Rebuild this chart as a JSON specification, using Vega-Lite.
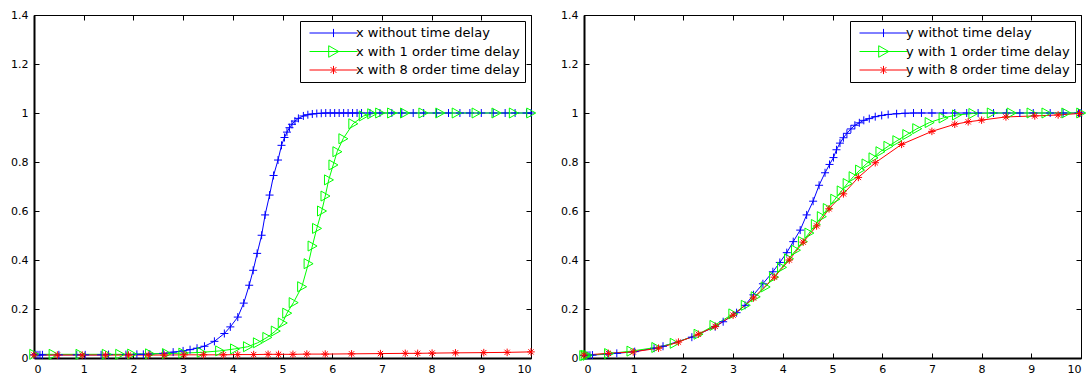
{
  "$schema": "https://vega.github.io/schema/vega-lite/v6.json",
  "padding": {"left": 10, "top": 8, "right": 0, "bottom": 0},
  "background": "white",
  "config": {
    "view": {"stroke": "black", "strokeWidth": 1},
    "axis": {"labelFont": "DejaVu Sans", "labelFontSize": 11, "labelColor": "black", "domainColor": "black", "tickColor": "black", "grid": false, "tickSize": -5, "title": null, "format": "~r"},
    "axisBottom": {"labelPadding": 10},
    "axisLeft": {"labelPadding": 11},
    "legend": {"labelFont": "DejaVu Sans", "labelFontSize": 13, "labelColor": "black", "labelLimit": 0, "padding": 5, "rowPadding": 4.5, "strokeColor": "black", "strokeWidth": 1, "fillColor": "white", "cornerRadius": 0, "symbolOffset": 4, "labelOffset": -2, "clipHeight": 14, "symbolSize": 2304, "symbolStrokeWidth": 1}
  },
  "datasets": {
    "left": [
      {"s": "x without time delay", "t": 0, "v": 0.013}, {"s": "x without time delay", "t": 0.04, "v": 0.013}, {"s": "x without time delay", "t": 0.08, "v": 0.013}, {"s": "x without time delay", "t": 0.12, "v": 0.013}, {"s": "x without time delay", "t": 0.17, "v": 0.013},
      {"s": "x without time delay", "t": 0.5, "v": 0.013}, {"s": "x without time delay", "t": 0.86, "v": 0.013}, {"s": "x without time delay", "t": 1.03, "v": 0.013}, {"s": "x without time delay", "t": 1.35, "v": 0.013}, {"s": "x without time delay", "t": 1.5, "v": 0.014},
      {"s": "x without time delay", "t": 1.85, "v": 0.014}, {"s": "x without time delay", "t": 2.07, "v": 0.015}, {"s": "x without time delay", "t": 2.2, "v": 0.015}, {"s": "x without time delay", "t": 2.33, "v": 0.016}, {"s": "x without time delay", "t": 2.6, "v": 0.019},
      {"s": "x without time delay", "t": 2.8, "v": 0.024}, {"s": "x without time delay", "t": 3.0, "v": 0.029}, {"s": "x without time delay", "t": 3.14, "v": 0.034}, {"s": "x without time delay", "t": 3.28, "v": 0.04}, {"s": "x without time delay", "t": 3.43, "v": 0.048},
      {"s": "x without time delay", "t": 3.63, "v": 0.068}, {"s": "x without time delay", "t": 3.83, "v": 0.1}, {"s": "x without time delay", "t": 3.95, "v": 0.127}, {"s": "x without time delay", "t": 4.1, "v": 0.167}, {"s": "x without time delay", "t": 4.22, "v": 0.224},
      {"s": "x without time delay", "t": 4.33, "v": 0.297}, {"s": "x without time delay", "t": 4.41, "v": 0.358}, {"s": "x without time delay", "t": 4.49, "v": 0.427}, {"s": "x without time delay", "t": 4.58, "v": 0.501}, {"s": "x without time delay", "t": 4.65, "v": 0.584},
      {"s": "x without time delay", "t": 4.74, "v": 0.665}, {"s": "x without time delay", "t": 4.82, "v": 0.745}, {"s": "x without time delay", "t": 4.91, "v": 0.808}, {"s": "x without time delay", "t": 4.98, "v": 0.868}, {"s": "x without time delay", "t": 5.04, "v": 0.9},
      {"s": "x without time delay", "t": 5.09, "v": 0.922}, {"s": "x without time delay", "t": 5.14, "v": 0.94}, {"s": "x without time delay", "t": 5.19, "v": 0.954}, {"s": "x without time delay", "t": 5.25, "v": 0.967}, {"s": "x without time delay", "t": 5.32, "v": 0.978},
      {"s": "x without time delay", "t": 5.42, "v": 0.988}, {"s": "x without time delay", "t": 5.51, "v": 0.993}, {"s": "x without time delay", "t": 5.6, "v": 0.996}, {"s": "x without time delay", "t": 5.69, "v": 0.998}, {"s": "x without time delay", "t": 5.78, "v": 0.999},
      {"s": "x without time delay", "t": 5.87, "v": 1}, {"s": "x without time delay", "t": 5.96, "v": 1}, {"s": "x without time delay", "t": 6.05, "v": 1}, {"s": "x without time delay", "t": 6.14, "v": 1}, {"s": "x without time delay", "t": 6.23, "v": 1},
      {"s": "x without time delay", "t": 6.32, "v": 1}, {"s": "x without time delay", "t": 6.41, "v": 1}, {"s": "x without time delay", "t": 6.5, "v": 1}, {"s": "x without time delay", "t": 6.59, "v": 1}, {"s": "x without time delay", "t": 6.76, "v": 1},
      {"s": "x without time delay", "t": 6.96, "v": 1}, {"s": "x without time delay", "t": 7.2, "v": 1}, {"s": "x without time delay", "t": 7.4, "v": 1}, {"s": "x without time delay", "t": 7.63, "v": 1}, {"s": "x without time delay", "t": 7.84, "v": 1},
      {"s": "x without time delay", "t": 8.1, "v": 1}, {"s": "x without time delay", "t": 8.34, "v": 1}, {"s": "x without time delay", "t": 8.57, "v": 1}, {"s": "x without time delay", "t": 8.77, "v": 1}, {"s": "x without time delay", "t": 9.0, "v": 1},
      {"s": "x without time delay", "t": 9.24, "v": 1}, {"s": "x without time delay", "t": 9.48, "v": 1}, {"s": "x without time delay", "t": 9.68, "v": 1}, {"s": "x without time delay", "t": 9.91, "v": 1}, {"s": "x without time delay", "t": 10, "v": 1},
      {"s": "x with 1 order time delay", "t": 0, "v": 0.015}, {"s": "x with 1 order time delay", "t": 0.39, "v": 0.015}, {"s": "x with 1 order time delay", "t": 0.93, "v": 0.015}, {"s": "x with 1 order time delay", "t": 1.46, "v": 0.015}, {"s": "x with 1 order time delay", "t": 1.73, "v": 0.015},
      {"s": "x with 1 order time delay", "t": 1.97, "v": 0.016}, {"s": "x with 1 order time delay", "t": 2.33, "v": 0.017}, {"s": "x with 1 order time delay", "t": 2.67, "v": 0.018}, {"s": "x with 1 order time delay", "t": 3.0, "v": 0.02}, {"s": "x with 1 order time delay", "t": 3.37, "v": 0.023},
      {"s": "x with 1 order time delay", "t": 3.74, "v": 0.029}, {"s": "x with 1 order time delay", "t": 4.04, "v": 0.037}, {"s": "x with 1 order time delay", "t": 4.3, "v": 0.046}, {"s": "x with 1 order time delay", "t": 4.5, "v": 0.062}, {"s": "x with 1 order time delay", "t": 4.69, "v": 0.084},
      {"s": "x with 1 order time delay", "t": 4.86, "v": 0.11}, {"s": "x with 1 order time delay", "t": 5.0, "v": 0.143}, {"s": "x with 1 order time delay", "t": 5.09, "v": 0.183}, {"s": "x with 1 order time delay", "t": 5.22, "v": 0.226}, {"s": "x with 1 order time delay", "t": 5.39, "v": 0.291},
      {"s": "x with 1 order time delay", "t": 5.52, "v": 0.385}, {"s": "x with 1 order time delay", "t": 5.6, "v": 0.457}, {"s": "x with 1 order time delay", "t": 5.69, "v": 0.529}, {"s": "x with 1 order time delay", "t": 5.79, "v": 0.6}, {"s": "x with 1 order time delay", "t": 5.86, "v": 0.661},
      {"s": "x with 1 order time delay", "t": 5.93, "v": 0.727}, {"s": "x with 1 order time delay", "t": 6.02, "v": 0.788}, {"s": "x with 1 order time delay", "t": 6.1, "v": 0.842}, {"s": "x with 1 order time delay", "t": 6.22, "v": 0.895}, {"s": "x with 1 order time delay", "t": 6.42, "v": 0.956},
      {"s": "x with 1 order time delay", "t": 6.63, "v": 0.988}, {"s": "x with 1 order time delay", "t": 6.8, "v": 0.997}, {"s": "x with 1 order time delay", "t": 6.96, "v": 1}, {"s": "x with 1 order time delay", "t": 7.2, "v": 1}, {"s": "x with 1 order time delay", "t": 7.46, "v": 1},
      {"s": "x with 1 order time delay", "t": 7.83, "v": 1}, {"s": "x with 1 order time delay", "t": 8.17, "v": 1}, {"s": "x with 1 order time delay", "t": 8.5, "v": 1}, {"s": "x with 1 order time delay", "t": 8.9, "v": 1}, {"s": "x with 1 order time delay", "t": 9.3, "v": 1},
      {"s": "x with 1 order time delay", "t": 9.65, "v": 1}, {"s": "x with 1 order time delay", "t": 10, "v": 1},
      {"s": "x with 8 order time delay", "t": 0, "v": 0.012}, {"s": "x with 8 order time delay", "t": 0.47, "v": 0.012}, {"s": "x with 8 order time delay", "t": 0.97, "v": 0.012}, {"s": "x with 8 order time delay", "t": 1.44, "v": 0.012}, {"s": "x with 8 order time delay", "t": 1.9, "v": 0.012},
      {"s": "x with 8 order time delay", "t": 2.3, "v": 0.012}, {"s": "x with 8 order time delay", "t": 2.62, "v": 0.012}, {"s": "x with 8 order time delay", "t": 3.02, "v": 0.013}, {"s": "x with 8 order time delay", "t": 3.41, "v": 0.013}, {"s": "x with 8 order time delay", "t": 3.81, "v": 0.013},
      {"s": "x with 8 order time delay", "t": 4.1, "v": 0.014}, {"s": "x with 8 order time delay", "t": 4.42, "v": 0.014}, {"s": "x with 8 order time delay", "t": 4.71, "v": 0.015}, {"s": "x with 8 order time delay", "t": 4.92, "v": 0.015}, {"s": "x with 8 order time delay", "t": 5.21, "v": 0.015},
      {"s": "x with 8 order time delay", "t": 5.49, "v": 0.016}, {"s": "x with 8 order time delay", "t": 5.86, "v": 0.016}, {"s": "x with 8 order time delay", "t": 6.39, "v": 0.017}, {"s": "x with 8 order time delay", "t": 6.97, "v": 0.018}, {"s": "x with 8 order time delay", "t": 7.47, "v": 0.019},
      {"s": "x with 8 order time delay", "t": 7.72, "v": 0.019}, {"s": "x with 8 order time delay", "t": 8.01, "v": 0.02}, {"s": "x with 8 order time delay", "t": 8.48, "v": 0.021}, {"s": "x with 8 order time delay", "t": 9.05, "v": 0.022}, {"s": "x with 8 order time delay", "t": 9.52, "v": 0.023},
      {"s": "x with 8 order time delay", "t": 10, "v": 0.025}
    ],
    "right": [
      {"s": "y withot time delay", "t": 0, "v": 0.01}, {"s": "y withot time delay", "t": 0.04, "v": 0.01}, {"s": "y withot time delay", "t": 0.08, "v": 0.011}, {"s": "y withot time delay", "t": 0.12, "v": 0.011}, {"s": "y withot time delay", "t": 0.17, "v": 0.012},
      {"s": "y withot time delay", "t": 0.48, "v": 0.016}, {"s": "y withot time delay", "t": 0.66, "v": 0.019}, {"s": "y withot time delay", "t": 1.02, "v": 0.026}, {"s": "y withot time delay", "t": 1.41, "v": 0.04}, {"s": "y withot time delay", "t": 1.59, "v": 0.048},
      {"s": "y withot time delay", "t": 2.17, "v": 0.085}, {"s": "y withot time delay", "t": 2.64, "v": 0.128}, {"s": "y withot time delay", "t": 2.8, "v": 0.148}, {"s": "y withot time delay", "t": 3.07, "v": 0.185}, {"s": "y withot time delay", "t": 3.24, "v": 0.215},
      {"s": "y withot time delay", "t": 3.41, "v": 0.258}, {"s": "y withot time delay", "t": 3.6, "v": 0.303}, {"s": "y withot time delay", "t": 3.8, "v": 0.352}, {"s": "y withot time delay", "t": 3.94, "v": 0.39}, {"s": "y withot time delay", "t": 4.08, "v": 0.43},
      {"s": "y withot time delay", "t": 4.21, "v": 0.475}, {"s": "y withot time delay", "t": 4.35, "v": 0.522}, {"s": "y withot time delay", "t": 4.48, "v": 0.584}, {"s": "y withot time delay", "t": 4.61, "v": 0.64}, {"s": "y withot time delay", "t": 4.73, "v": 0.705},
      {"s": "y withot time delay", "t": 4.85, "v": 0.756}, {"s": "y withot time delay", "t": 4.94, "v": 0.79}, {"s": "y withot time delay", "t": 5.02, "v": 0.818}, {"s": "y withot time delay", "t": 5.08, "v": 0.85}, {"s": "y withot time delay", "t": 5.15, "v": 0.877},
      {"s": "y withot time delay", "t": 5.22, "v": 0.899}, {"s": "y withot time delay", "t": 5.29, "v": 0.917}, {"s": "y withot time delay", "t": 5.37, "v": 0.935}, {"s": "y withot time delay", "t": 5.45, "v": 0.95}, {"s": "y withot time delay", "t": 5.54, "v": 0.96},
      {"s": "y withot time delay", "t": 5.63, "v": 0.97}, {"s": "y withot time delay", "t": 5.74, "v": 0.977}, {"s": "y withot time delay", "t": 5.86, "v": 0.985}, {"s": "y withot time delay", "t": 5.99, "v": 0.99}, {"s": "y withot time delay", "t": 6.12, "v": 0.994},
      {"s": "y withot time delay", "t": 6.29, "v": 0.997}, {"s": "y withot time delay", "t": 6.46, "v": 0.999}, {"s": "y withot time delay", "t": 6.63, "v": 1}, {"s": "y withot time delay", "t": 6.79, "v": 1}, {"s": "y withot time delay", "t": 7.0, "v": 1},
      {"s": "y withot time delay", "t": 7.23, "v": 1}, {"s": "y withot time delay", "t": 7.46, "v": 1}, {"s": "y withot time delay", "t": 7.7, "v": 1}, {"s": "y withot time delay", "t": 7.93, "v": 1}, {"s": "y withot time delay", "t": 8.24, "v": 1},
      {"s": "y withot time delay", "t": 8.5, "v": 1}, {"s": "y withot time delay", "t": 8.77, "v": 1}, {"s": "y withot time delay", "t": 9.04, "v": 1}, {"s": "y withot time delay", "t": 9.38, "v": 1}, {"s": "y withot time delay", "t": 9.64, "v": 1},
      {"s": "y withot time delay", "t": 9.95, "v": 1}, {"s": "y withot time delay", "t": 10, "v": 1},
      {"s": "y with 1 order time delay", "t": 0, "v": 0.01}, {"s": "y with 1 order time delay", "t": 0.03, "v": 0.011}, {"s": "y with 1 order time delay", "t": 0.07, "v": 0.011}, {"s": "y with 1 order time delay", "t": 0.5, "v": 0.018}, {"s": "y with 1 order time delay", "t": 0.95, "v": 0.028},
      {"s": "y with 1 order time delay", "t": 1.45, "v": 0.043}, {"s": "y with 1 order time delay", "t": 1.82, "v": 0.06}, {"s": "y with 1 order time delay", "t": 2.3, "v": 0.097}, {"s": "y with 1 order time delay", "t": 2.62, "v": 0.133}, {"s": "y with 1 order time delay", "t": 3.0, "v": 0.18},
      {"s": "y with 1 order time delay", "t": 3.25, "v": 0.215}, {"s": "y with 1 order time delay", "t": 3.45, "v": 0.25}, {"s": "y with 1 order time delay", "t": 3.65, "v": 0.29}, {"s": "y with 1 order time delay", "t": 3.82, "v": 0.33}, {"s": "y with 1 order time delay", "t": 3.98, "v": 0.37},
      {"s": "y with 1 order time delay", "t": 4.12, "v": 0.405}, {"s": "y with 1 order time delay", "t": 4.26, "v": 0.44}, {"s": "y with 1 order time delay", "t": 4.4, "v": 0.475}, {"s": "y with 1 order time delay", "t": 4.53, "v": 0.51}, {"s": "y with 1 order time delay", "t": 4.66, "v": 0.545},
      {"s": "y with 1 order time delay", "t": 4.78, "v": 0.577}, {"s": "y with 1 order time delay", "t": 4.9, "v": 0.61}, {"s": "y with 1 order time delay", "t": 5.05, "v": 0.648}, {"s": "y with 1 order time delay", "t": 5.18, "v": 0.682}, {"s": "y with 1 order time delay", "t": 5.3, "v": 0.712},
      {"s": "y with 1 order time delay", "t": 5.42, "v": 0.74}, {"s": "y with 1 order time delay", "t": 5.55, "v": 0.767}, {"s": "y with 1 order time delay", "t": 5.68, "v": 0.792}, {"s": "y with 1 order time delay", "t": 5.82, "v": 0.817}, {"s": "y with 1 order time delay", "t": 5.96, "v": 0.842},
      {"s": "y with 1 order time delay", "t": 6.12, "v": 0.864}, {"s": "y with 1 order time delay", "t": 6.3, "v": 0.887}, {"s": "y with 1 order time delay", "t": 6.5, "v": 0.912}, {"s": "y with 1 order time delay", "t": 6.7, "v": 0.936}, {"s": "y with 1 order time delay", "t": 6.95, "v": 0.961},
      {"s": "y with 1 order time delay", "t": 7.23, "v": 0.98}, {"s": "y with 1 order time delay", "t": 7.5, "v": 0.992}, {"s": "y with 1 order time delay", "t": 7.83, "v": 0.998}, {"s": "y with 1 order time delay", "t": 8.2, "v": 1}, {"s": "y with 1 order time delay", "t": 8.6, "v": 1},
      {"s": "y with 1 order time delay", "t": 9.0, "v": 1}, {"s": "y with 1 order time delay", "t": 9.3, "v": 1}, {"s": "y with 1 order time delay", "t": 9.7, "v": 1}, {"s": "y with 1 order time delay", "t": 10, "v": 1},
      {"s": "y with 8 order time delay", "t": 0, "v": 0.012}, {"s": "y with 8 order time delay", "t": 0.49, "v": 0.019}, {"s": "y with 8 order time delay", "t": 0.99, "v": 0.025}, {"s": "y with 8 order time delay", "t": 1.5, "v": 0.04}, {"s": "y with 8 order time delay", "t": 1.9, "v": 0.065},
      {"s": "y with 8 order time delay", "t": 2.3, "v": 0.097}, {"s": "y with 8 order time delay", "t": 2.64, "v": 0.129}, {"s": "y with 8 order time delay", "t": 3.0, "v": 0.175}, {"s": "y with 8 order time delay", "t": 3.41, "v": 0.245}, {"s": "y with 8 order time delay", "t": 3.83, "v": 0.33},
      {"s": "y with 8 order time delay", "t": 4.13, "v": 0.4}, {"s": "y with 8 order time delay", "t": 4.41, "v": 0.473}, {"s": "y with 8 order time delay", "t": 4.68, "v": 0.539}, {"s": "y with 8 order time delay", "t": 4.93, "v": 0.609}, {"s": "y with 8 order time delay", "t": 5.22, "v": 0.67},
      {"s": "y with 8 order time delay", "t": 5.52, "v": 0.737}, {"s": "y with 8 order time delay", "t": 5.86, "v": 0.797}, {"s": "y with 8 order time delay", "t": 6.39, "v": 0.872}, {"s": "y with 8 order time delay", "t": 7.0, "v": 0.925}, {"s": "y with 8 order time delay", "t": 7.46, "v": 0.954},
      {"s": "y with 8 order time delay", "t": 7.73, "v": 0.964}, {"s": "y with 8 order time delay", "t": 8.0, "v": 0.971}, {"s": "y with 8 order time delay", "t": 8.49, "v": 0.984}, {"s": "y with 8 order time delay", "t": 9.07, "v": 0.988}, {"s": "y with 8 order time delay", "t": 9.54, "v": 0.992},
      {"s": "y with 8 order time delay", "t": 9.97, "v": 0.998}
    ]
  },
  "hconcat": [
    {
      "width": 497, "height": 343,
      "data": {"name": "left"},
      "layer": [
        {
          "mark": {"type": "line", "strokeWidth": 1},
          "encoding": {
            "x": {"field": "t", "type": "quantitative", "scale": {"domain": [0, 10], "nice": false, "zero": false}, "axis": {"orient": "bottom", "values": [0,1,2,3,4,5,6,7,8,9,10], "domainWidth": 2}},
            "y": {"field": "v", "type": "quantitative", "scale": {"domain": [0, 1.4], "nice": false}, "axis": {"orient": "left", "values": [0,0.2,0.4,0.6,0.8,1,1.2,1.4], "domainWidth": 2}},
            "color": {"field": "s", "type": "nominal", "scale": {"domain": ["x without time delay", "x with 1 order time delay", "x with 8 order time delay"], "range": ["#0000ff", "#00ff00", "#ff0000"]},
              "legend": {"title": null, "orient": "top-right", "offset": 6, "symbolOffset": 4, "labelOffset": -2, "labelExpr": "datum.label + ' '", "encode": {"symbols": {"update": {"size": {"value": 2304}, "shape": {"signal": "indexof(datum.value,'1 order')>=0 ? 'M-1,0H1M-0.2,-0.24L0.22,0L-0.2,0.24Z' : indexof(datum.value,'8 order')>=0 ? 'M-1,0H1M0,-0.17V0.17M-0.12,-0.12L0.12,0.12M-0.12,0.12L0.12,-0.12' : 'M-1,0H1M0,-0.17V0.17'"}, "fill": {"value": "transparent"}, "strokeWidth": {"value": 1}}}}}}
          }
        },
        {
          "mark": {"type": "point", "filled": false, "size": 100, "strokeWidth": 1, "opacity": 1,
            "shape": {"expr": "indexof(datum.s,'1 order')>=0 ? 'M-0.85,-1L0.95,0L-0.85,1Z' : indexof(datum.s,'8 order')>=0 ? 'M-0.75,0H0.75M0,-0.75V0.75M-0.53,-0.53L0.53,0.53M-0.53,0.53L0.53,-0.53' : 'M-0.8,0H0.8M0,-0.8V0.8'"}},
          "encoding": {
            "x": {"field": "t", "type": "quantitative", "scale": {"domain": [0, 10], "nice": false, "zero": false}, "axis": {"orient": "top", "values": [0,1,2,3,4,5,6,7,8,9,10], "labels": false, "domain": false}},
            "y": {"field": "v", "type": "quantitative", "scale": {"domain": [0, 1.4], "nice": false}, "axis": {"orient": "right", "values": [0,0.2,0.4,0.6,0.8,1,1.2,1.4], "labels": false, "domain": false}},
            "color": {"field": "s", "type": "nominal",
              "legend": {"title": null, "orient": "top-right", "offset": 6, "symbolOffset": 4, "labelOffset": -2, "labelExpr": "datum.label + ' '", "encode": {"symbols": {"update": {"size": {"value": 2304}, "shape": {"signal": "indexof(datum.value,'1 order')>=0 ? 'M-1,0H1M-0.2,-0.24L0.22,0L-0.2,0.24Z' : indexof(datum.value,'8 order')>=0 ? 'M-1,0H1M0,-0.17V0.17M-0.12,-0.12L0.12,0.12M-0.12,0.12L0.12,-0.12' : 'M-1,0H1M0,-0.17V0.17'"}, "fill": {"value": "transparent"}, "strokeWidth": {"value": 1}}}}}}
          }
        }
      ],
      "resolve": {"axis": {"x": "independent", "y": "independent"}}
    },
    {
      "width": 497, "height": 343,
      "data": {"name": "right"},
      "layer": [
        {
          "mark": {"type": "line", "strokeWidth": 1},
          "encoding": {
            "x": {"field": "t", "type": "quantitative", "scale": {"domain": [0, 10], "nice": false, "zero": false}, "axis": {"orient": "bottom", "values": [0,1,2,3,4,5,6,7,8,9,10], "domainWidth": 2}},
            "y": {"field": "v", "type": "quantitative", "scale": {"domain": [0, 1.4], "nice": false}, "axis": {"orient": "left", "values": [0,0.2,0.4,0.6,0.8,1,1.2,1.4], "domainWidth": 2}},
            "color": {"field": "s", "type": "nominal", "scale": {"domain": ["y withot time delay", "y with 1 order time delay", "y with 8 order time delay"], "range": ["#0000ff", "#00ff00", "#ff0000"]},
              "legend": {"title": null, "orient": "top-right", "offset": 6, "symbolOffset": 4, "labelOffset": -2, "labelExpr": "datum.label + ' '", "encode": {"symbols": {"update": {"size": {"value": 2304}, "shape": {"signal": "indexof(datum.value,'1 order')>=0 ? 'M-1,0H1M-0.2,-0.24L0.22,0L-0.2,0.24Z' : indexof(datum.value,'8 order')>=0 ? 'M-1,0H1M0,-0.17V0.17M-0.12,-0.12L0.12,0.12M-0.12,0.12L0.12,-0.12' : 'M-1,0H1M0,-0.17V0.17'"}, "fill": {"value": "transparent"}, "strokeWidth": {"value": 1}}}}}}
          }
        },
        {
          "mark": {"type": "point", "filled": false, "size": 100, "strokeWidth": 1, "opacity": 1,
            "shape": {"expr": "indexof(datum.s,'1 order')>=0 ? 'M-0.85,-1L0.95,0L-0.85,1Z' : indexof(datum.s,'8 order')>=0 ? 'M-0.75,0H0.75M0,-0.75V0.75M-0.53,-0.53L0.53,0.53M-0.53,0.53L0.53,-0.53' : 'M-0.8,0H0.8M0,-0.8V0.8'"}},
          "encoding": {
            "x": {"field": "t", "type": "quantitative", "scale": {"domain": [0, 10], "nice": false, "zero": false}, "axis": {"orient": "top", "values": [0,1,2,3,4,5,6,7,8,9,10], "labels": false, "domain": false}},
            "y": {"field": "v", "type": "quantitative", "scale": {"domain": [0, 1.4], "nice": false}, "axis": {"orient": "right", "values": [0,0.2,0.4,0.6,0.8,1,1.2,1.4], "labels": false, "domain": false}},
            "color": {"field": "s", "type": "nominal",
              "legend": {"title": null, "orient": "top-right", "offset": 6, "symbolOffset": 4, "labelOffset": -2, "labelExpr": "datum.label + ' '", "encode": {"symbols": {"update": {"size": {"value": 2304}, "shape": {"signal": "indexof(datum.value,'1 order')>=0 ? 'M-1,0H1M-0.2,-0.24L0.22,0L-0.2,0.24Z' : indexof(datum.value,'8 order')>=0 ? 'M-1,0H1M0,-0.17V0.17M-0.12,-0.12L0.12,0.12M-0.12,0.12L0.12,-0.12' : 'M-1,0H1M0,-0.17V0.17'"}, "fill": {"value": "transparent"}, "strokeWidth": {"value": 1}}}}}}
          }
        }
      ],
      "resolve": {"axis": {"x": "independent", "y": "independent"}}
    }
  ],
  "bounds": "flush",
  "spacing": 53,
  "resolve": {"scale": {"color": "independent"}}
}
